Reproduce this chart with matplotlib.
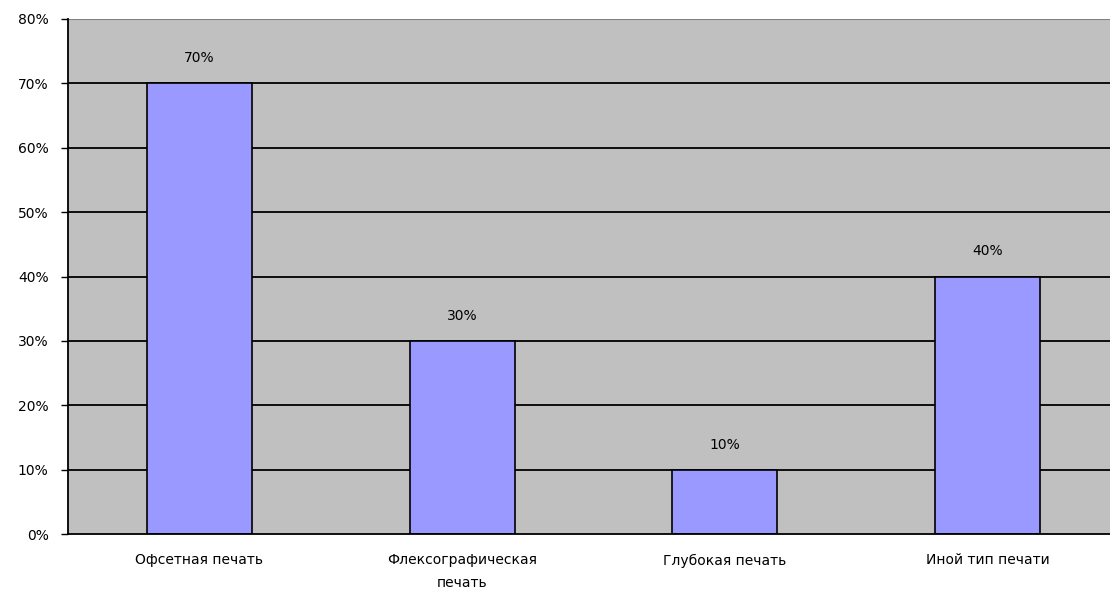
import matplotlib
matplotlib.use("Agg")
import matplotlib.pyplot as plt
from matplotlib.ticker import FixedLocator

categories = ["Офсетная печать", "Флексографическая\nпечать", "Глубокая печать", "Иной тип печати"]
values = [70, 30, 10, 40]
yticks = [0, 10, 20, 30, 40, 50, 60, 70, 80]

plt.rcParams['font.family'] = ['DejaVu Sans']

fig = plt.figure(figsize=(11.10, 5.99), dpi=100)
ax = fig.add_axes([68/1110, (599-534)/599, (1110-68)/1110, (534-19)/599])
ax.set_facecolor('#C0C0C0')

x = list(range(len(categories)))
ax.bar(x, values, width=0.4, color='#9999FF', edgecolor='#000000', linewidth=1.2, zorder=3)

for xi, v in zip(x, values):
    ax.text(xi, v + 3.9, f"{v}%", ha='center', va='center', fontsize=10, color='#000000', zorder=4)

ax.set_xlim(-0.5, 3.466)
ax.set_ylim(0, 80)
ax.yaxis.set_major_locator(FixedLocator(yticks))
ax.set_yticklabels([f"{t}%" for t in yticks], fontsize=10)
ax.set_xticks(x)
ax.set_xticklabels(categories, fontsize=10, linespacing=1.75)
ax.tick_params(axis='x', length=0, pad=14)
ax.tick_params(axis='y', length=5, width=1, direction='out', pad=9)

for t in yticks[1:-1]:
    ax.axhline(t, color='#000000', linewidth=1.3, zorder=1)

for s in ['top', 'right']:
    ax.spines[s].set_visible(False)
ax.axhline(80, color='#808080', linewidth=1.5, zorder=1)
ax.spines['left'].set_linewidth(1.3)
ax.spines['bottom'].set_linewidth(1.3)
ax.spines['left'].set_zorder(5)
ax.spines['bottom'].set_zorder(5)

fig.savefig("out.png", dpi=100, facecolor='white')
